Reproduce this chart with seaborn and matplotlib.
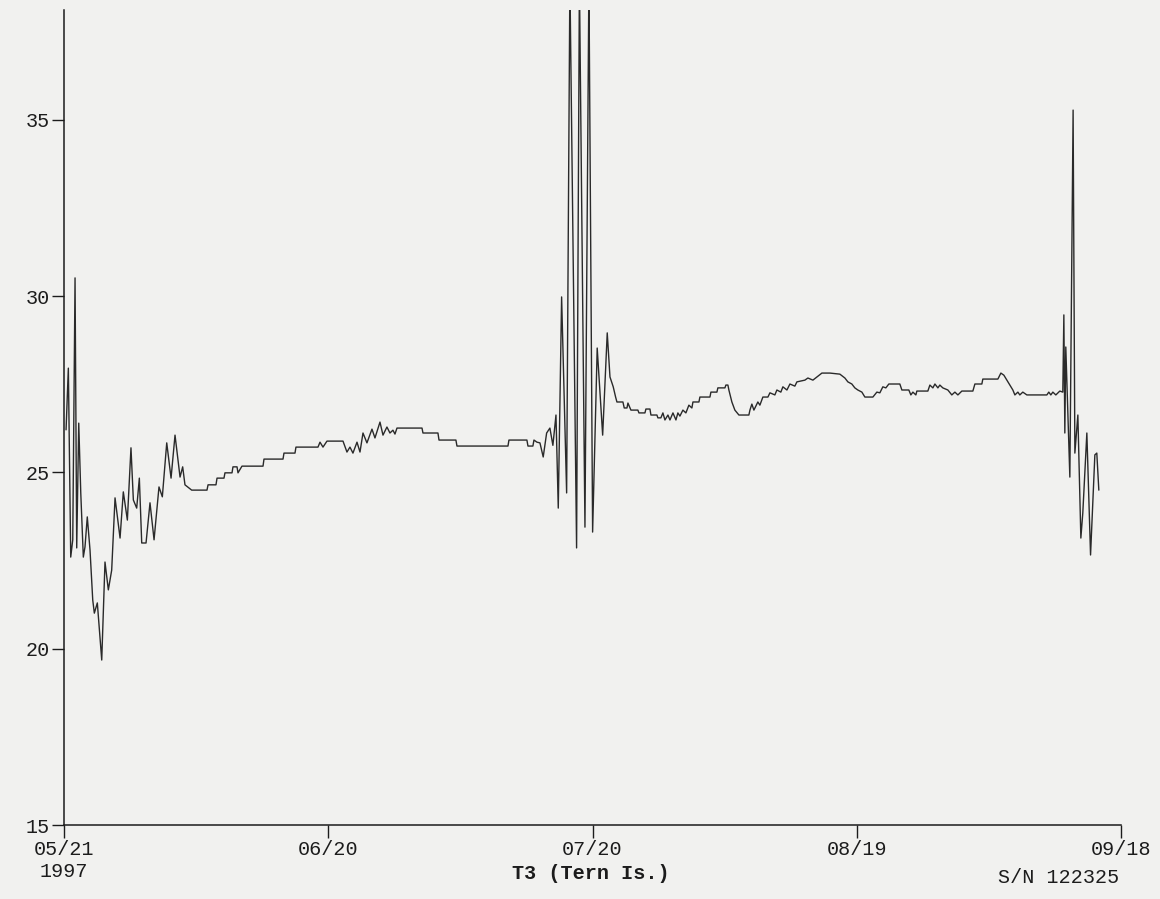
import pandas as pd
import matplotlib
matplotlib.use('Agg')
import matplotlib.pyplot as plt
import seaborn as sns

# Logger record, T3 (Tern Is.), days since 05/21/1997 vs temperature
days = [
    0.23, 0.49, 0.76, 0.99, 1.25, 1.44, 1.67, 1.90, 2.19, 2.38, 2.64, 2.95,
    3.26, 3.44, 3.78, 4.28, 4.65, 5.03, 5.41, 5.79, 6.36, 6.73, 7.19, 7.60,
    7.87, 8.25, 8.55, 8.82, 9.31, 9.76, 10.22, 10.78, 11.16, 11.66, 12.15,
    12.60, 13.17, 13.47, 13.73, 14.49, 16.23, 16.35, 17.25, 17.37, 18.16,
    18.27, 19.07, 19.18, 19.64, 19.75, 20.20, 22.59, 22.70, 24.86, 24.97,
    26.22, 26.33, 28.83, 29.06, 29.40, 29.85, 31.67, 32.12, 32.46, 32.80,
    33.26, 33.60, 33.94, 34.39, 34.96, 35.30, 35.87, 36.21, 36.66, 37.00,
    37.34, 37.57, 37.80, 40.64, 40.75, 42.45, 42.57, 44.49, 44.61, 50.40,
    50.51, 52.55, 52.67, 53.23, 53.35, 53.69, 54.03, 54.40, 54.79, 55.16,
    55.50, 55.85, 56.11, 56.49, 57.06, 57.43, 58.19, 58.51, 59.14, 59.59,
    60.01, 60.53, 61.15, 61.67, 61.98, 62.35, 62.62, 62.77, 63.45, 63.60,
    63.91, 64.02, 64.36, 65.15, 65.27, 65.95, 66.06, 66.52, 66.63, 67.31,
    67.42, 67.76, 67.99, 68.22, 68.56, 68.79, 69.13, 69.47, 69.69, 69.92,
    70.26, 70.60, 70.94, 71.28, 71.40, 72.08, 72.19, 73.33, 73.44, 74.12,
    74.23, 75.03, 75.14, 75.37, 75.48, 75.82, 76.16, 76.62, 77.75, 77.87,
    78.09, 78.32, 78.77, 79.00, 79.34, 79.91, 80.14, 80.70, 80.93, 81.38,
    81.61, 82.07, 82.41, 82.97, 83.20, 84.11, 84.45, 85.02, 85.47, 86.04,
    86.95, 88.08, 88.65, 88.99, 89.44, 89.78, 90.12, 90.58, 90.92, 91.83,
    92.28, 92.62, 92.96, 93.30, 93.64, 94.89, 95.12, 95.91, 96.14, 96.37,
    96.71, 96.82, 98.07, 98.30, 98.64, 98.87, 99.21, 99.43, 99.77, 100.34,
    100.79, 101.14, 101.48, 101.93, 103.18, 103.41, 104.20, 104.31, 106.02,
    106.36, 106.70, 107.04, 107.38, 107.72, 107.95, 108.29, 108.51, 108.85,
    109.31, 111.58, 111.80, 112.03, 112.26, 112.60, 113.05, 113.39, 113.51,
    113.62, 113.73, 114.19, 114.56, 114.76, 115.10, 115.44, 115.66, 116.12,
    116.54, 117.03, 117.25, 117.48,
]
temps = [
    26.21, 27.96, 22.60, 23.09, 30.52, 22.86, 26.40, 24.42, 22.60, 22.89, 23.74, 22.80,
    21.38, 21.01, 21.30, 19.68, 22.46, 21.67, 22.23, 24.28, 23.14, 24.45, 23.65, 25.70,
    24.22, 23.99, 24.84, 23.00, 23.00, 24.14, 23.09, 24.59, 24.31, 25.84, 24.84,
    26.06, 24.87, 25.16, 24.65, 24.50, 24.50, 24.65, 24.65, 24.84, 24.84,
    24.99, 24.99, 25.16, 25.16, 24.99, 25.18, 25.18, 25.38, 25.38, 25.55,
    25.55, 25.72, 25.72, 25.86, 25.72, 25.89, 25.89, 25.58, 25.72, 25.55,
    25.86, 25.58, 26.12, 25.84, 26.23, 25.98, 26.43, 26.06, 26.29, 26.12,
    26.20, 26.09, 26.26, 26.26, 26.12, 26.12, 25.92, 25.92, 25.75, 25.75,
    25.92, 25.92, 25.75, 25.75, 25.92, 25.86, 25.84, 25.44, 26.12, 26.26,
    25.77, 26.63, 23.99, 29.98, 24.42, 39.0, 22.86, 39.0, 23.45, 39.0,
    23.31, 28.53, 26.06, 28.96, 27.71, 27.43, 27.14, 27.00, 27.00, 26.83,
    26.83, 26.97, 26.77, 26.77, 26.69, 26.69, 26.80, 26.80, 26.63, 26.63,
    26.55, 26.55, 26.69, 26.49, 26.63, 26.49, 26.69, 26.49, 26.69, 26.60,
    26.77, 26.69, 26.91, 26.83, 27.00, 27.00, 27.14, 27.14, 27.28, 27.28,
    27.40, 27.40, 27.48, 27.48, 27.34, 27.00, 26.77, 26.63, 26.63, 26.77,
    26.94, 26.77, 27.00, 26.91, 27.14, 27.14, 27.26, 27.20, 27.34, 27.28,
    27.43, 27.34, 27.51, 27.45, 27.57, 27.62, 27.68, 27.62, 27.71, 27.82,
    27.82, 27.79, 27.68, 27.57, 27.51, 27.40, 27.34, 27.28, 27.14, 27.14,
    27.28, 27.26, 27.43, 27.40, 27.51, 27.51, 27.34, 27.34, 27.20, 27.28,
    27.20, 27.31, 27.31, 27.48, 27.40, 27.51, 27.40, 27.48, 27.40, 27.34,
    27.20, 27.28, 27.20, 27.31, 27.31, 27.51, 27.51, 27.65, 27.65,
    27.82, 27.76, 27.62, 27.48, 27.34, 27.20, 27.28, 27.20, 27.28,
    27.20, 27.20, 27.28, 27.20, 27.28, 27.20, 27.31, 27.28, 29.47,
    26.12, 28.56, 24.87, 35.28, 25.55, 26.63, 23.14, 23.85, 26.12,
    22.66, 25.50, 25.55, 24.50,
]

x_ticks = [0, 30, 60, 90, 120]
x_labels = ['05/21\n1997', '06/20', '07/20', '08/19', '09/18']
y_ticks = [15, 20, 25, 30, 35]

df = pd.DataFrame({'day': days, 'temp': temps})

sns.set_style('white')
plt.rcParams['font.family'] = ['Liberation Mono', 'DejaVu Sans Mono']

paper = '#f1f1ef'
ink = '#1c1c1c'

fig = plt.figure(figsize=(11.6, 8.99), dpi=100, facecolor=paper)
ax = fig.add_axes([0.0552, 0.0823, 0.9112, 0.9066])
ax.set_facecolor(paper)

sns.lineplot(data=df, x='day', y='temp', ax=ax, color='#2a2a2a',
             linewidth=1.0, estimator=None, sort=False)

ax.set_xlim(0, 120)
ax.set_ylim(15, 38.12)
ax.set_xticks(x_ticks)
ax.set_xticklabels(x_labels)
ax.set_yticks(y_ticks)
ax.tick_params(axis='both', direction='out', length=9, width=1.0,
               color=ink, labelcolor=ink, labelsize=14.5,
               bottom=True, left=True)
ax.tick_params(axis='y', pad=1)
ax.tick_params(axis='x', pad=1.5)

for side in ['top', 'right']:
    ax.spines[side].set_visible(False)
for side in ['left', 'bottom']:
    ax.spines[side].set_color(ink)
    ax.spines[side].set_linewidth(1.1)

ax.set_xlabel('')
ax.set_ylabel('')

ax.text(0.498, -0.059, 'T3 (Tern Is.)', transform=ax.transAxes,
        ha='center', va='center', fontsize=14.5, fontweight='bold', color=ink)
ax.text(0.998, -0.064, 'S/N 122325', transform=ax.transAxes,
        ha='right', va='center', fontsize=14.5, color=ink)

fig.savefig('out.png', dpi=100, facecolor=paper)
